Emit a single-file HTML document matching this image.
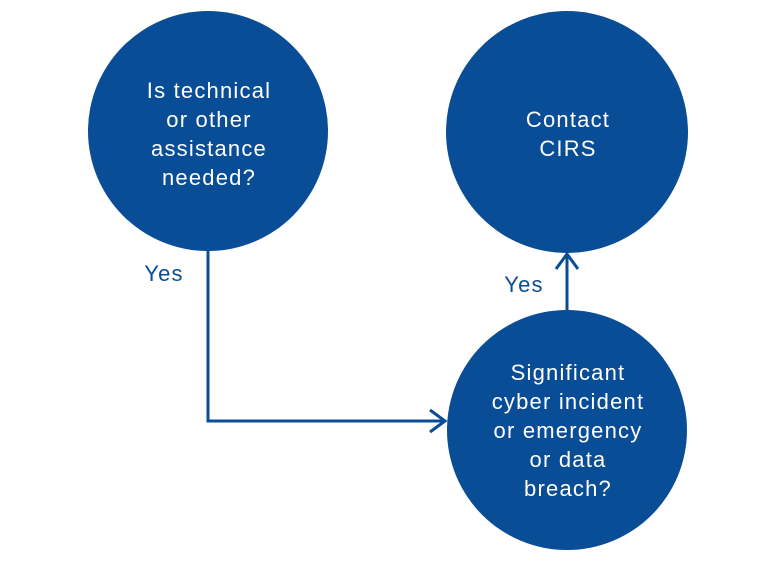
<!DOCTYPE html>
<html><head><meta charset="utf-8"><style>
html,body{margin:0;padding:0;background:#fff;width:781px;height:570px;overflow:hidden}
</style></head><body>
<svg width="781" height="570" viewBox="0 0 781 570" xmlns="http://www.w3.org/2000/svg" font-family="Liberation Sans, sans-serif">
<g fill="#0a4d97">
<circle cx="208" cy="131" r="120"/>
<circle cx="567" cy="132" r="121"/>
<circle cx="567" cy="430" r="120"/>
</g>
<g fill="none" stroke="#0a4d97" stroke-width="3">
<polyline points="208,251 208,421 445,421"/>
<polyline points="430,410 445,421 430,432"/>
<line x1="567" y1="311" x2="567" y2="254"/>
<polyline points="556,269 567,254 578,269"/>
</g>
<g fill="#fff" font-size="22" letter-spacing="1.2" text-anchor="middle">
<text x="209" y="98">Is technical</text>
<text x="209" y="127">or other</text>
<text x="209" y="156">assistance</text>
<text x="209" y="185">needed?</text>
<text x="568" y="127">Contact</text>
<text x="568" y="156">CIRS</text>
<text x="568" y="380">Significant</text>
<text x="568" y="409">cyber incident</text>
<text x="568" y="438">or emergency</text>
<text x="568" y="467">or data</text>
<text x="568" y="496">breach?</text>
</g>
<g fill="#0a4d97" font-size="22" letter-spacing="1.2" text-anchor="middle">
<text x="164" y="281">Yes</text>
<text x="524" y="292">Yes</text>
</g>
</svg>
</body></html>
